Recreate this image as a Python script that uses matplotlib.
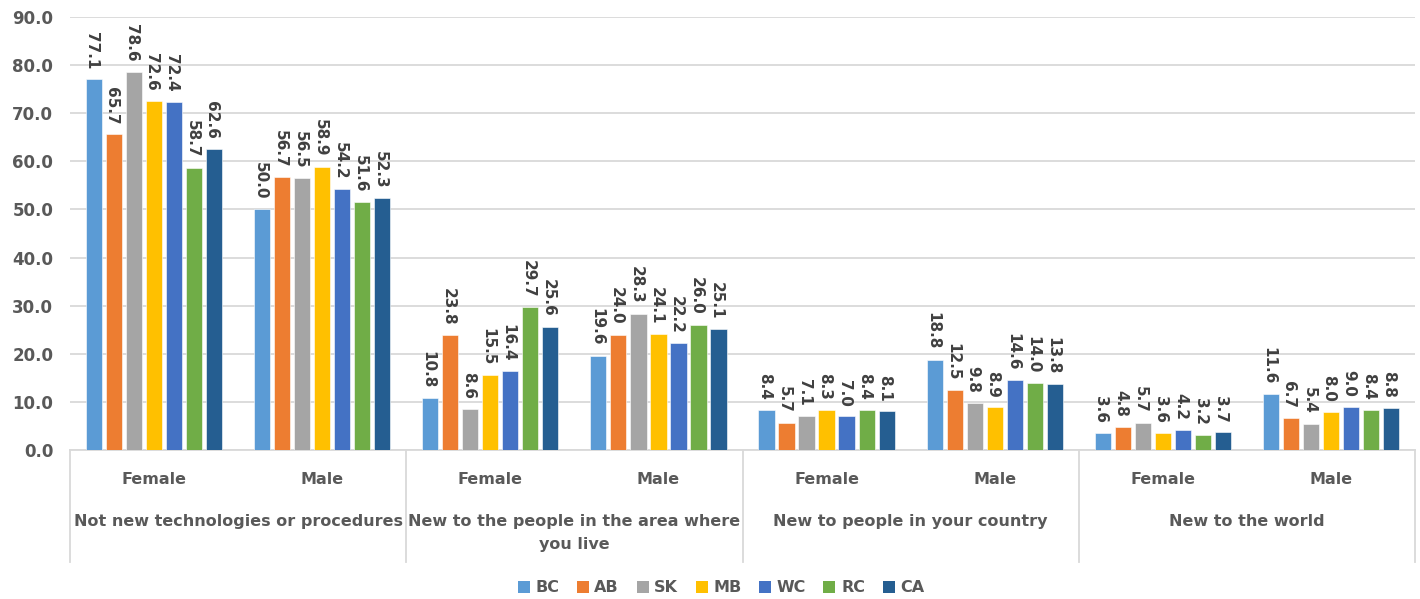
import matplotlib
matplotlib.use("Agg")
import matplotlib.pyplot as plt
import matplotlib.transforms as mtransforms
from matplotlib.patches import Patch
import numpy as np

plt.rcParams['font.family'] = ['DejaVu Sans']

series = ["BC", "AB", "SK", "MB", "WC", "RC", "CA"]
colors = ["#5B9BD5", "#ED7D31", "#A5A5A5", "#FFC000", "#4472C4", "#70AD47", "#255E91"]

groups = ["Not new technologies or procedures",
          "New to the people in the area where\nyou live",
          "New to people in your country",
          "New to the world"]
genders = ["Female", "Male"]

# one row per (group, gender), columns follow `series`
not_new_female = [77.1, 65.7, 78.6, 72.6, 72.4, 58.7, 62.6]
not_new_male = [50.0, 56.7, 56.5, 58.9, 54.2, 51.6, 52.3]
area_female = [10.8, 23.8, 8.6, 15.5, 16.4, 29.7, 25.6]
area_male = [19.6, 24.0, 28.3, 24.1, 22.2, 26.0, 25.1]
country_female = [8.4, 5.7, 7.1, 8.3, 7.0, 8.4, 8.1]
country_male = [18.8, 12.5, 9.8, 8.9, 14.6, 14.0, 13.8]
world_female = [3.6, 4.8, 5.7, 3.6, 4.2, 3.2, 3.7]
world_male = [11.6, 6.7, 5.4, 8.0, 9.0, 8.4, 8.8]

rows = [not_new_female, not_new_male, area_female, area_male,
        country_female, country_male, world_female, world_male]
values = np.array(rows)

yticks = [0, 10, 20, 30, 40, 50, 60, 70, 80, 90]

W, H = 1420, 599
fig = plt.figure(figsize=(W / 100, H / 100), dpi=100)
ax = fig.add_axes([70 / W, 1 - 450 / H, 1345 / W, (450 - 17) / H])

label_col = "#404040"
tick_col = "#595959"
grid_col = "#D9D9D9"

n_cat = values.shape[0]
x = np.arange(n_cat)
step = 0.119
bw = 0.096
for i, (name, col) in enumerate(zip(series, colors)):
    offs = (i - 3) * step
    ax.bar(x + offs, values[:, i], width=bw, color=col, zorder=3,
           edgecolor="white", linewidth=0.4)
    for xi, v in zip(x + offs, values[:, i]):
        ax.annotate(f"{v:.1f}", (xi, v), xytext=(-1.5, 7), textcoords="offset points",
                    rotation=-90, ha="center", va="bottom", fontsize=11,
                    fontweight="bold", color=label_col, zorder=4)

ax.set_xlim(-0.5, n_cat - 0.5)
ax.set_ylim(0, 90)
ax.set_yticks(yticks)
ax.set_yticklabels([f"{t:.1f}" for t in yticks], fontsize=12, fontweight="bold",
                   color=tick_col)
ax.tick_params(axis="y", length=0, pad=12)
ax.tick_params(axis="x", length=0, labelbottom=False)
ax.yaxis.grid(True, color=grid_col, linewidth=1.3, zorder=0)
for s in ["top", "right", "left"]:
    ax.spines[s].set_visible(False)
ax.spines["bottom"].set_color(grid_col)
ax.spines["bottom"].set_linewidth(1.3)

# two-level category axis
trans = mtransforms.blended_transform_factory(ax.transData, ax.transAxes)
ax_h = 450 - 17
box_depth = (562 - 450) / ax_h
for b in np.arange(-0.5, n_cat, 2):
    ax.plot([b, b], [0, -box_depth], transform=trans, color=grid_col,
            linewidth=1.3, clip_on=False)

g_y = -(479 - 450) / ax_h
for xi in x:
    ax.text(xi, g_y, genders[xi % 2], transform=trans, ha="center", va="center",
            fontsize=11.5, fontweight="bold", color=tick_col)

grp_top = -(514 - 450) / ax_h
for gi, name in enumerate(groups):
    ax.text(2 * gi + 0.5, grp_top, name, transform=trans,
            ha="center", va="top", fontsize=11.5, fontweight="bold",
            color=tick_col, linespacing=1.65)

handles = [Patch(facecolor=c, edgecolor="none") for c in colors]
leg = fig.legend(handles, series, loc="center", bbox_to_anchor=(721 / W, 1 - 588 / H),
                 ncol=7, frameon=False, handlelength=0.75, handleheight=0.75,
                 handletextpad=0.35, columnspacing=1.1,
                 prop={"weight": "bold", "size": 11.5})
for t in leg.get_texts():
    t.set_color(tick_col)

fig.savefig("out.png", dpi=100)
